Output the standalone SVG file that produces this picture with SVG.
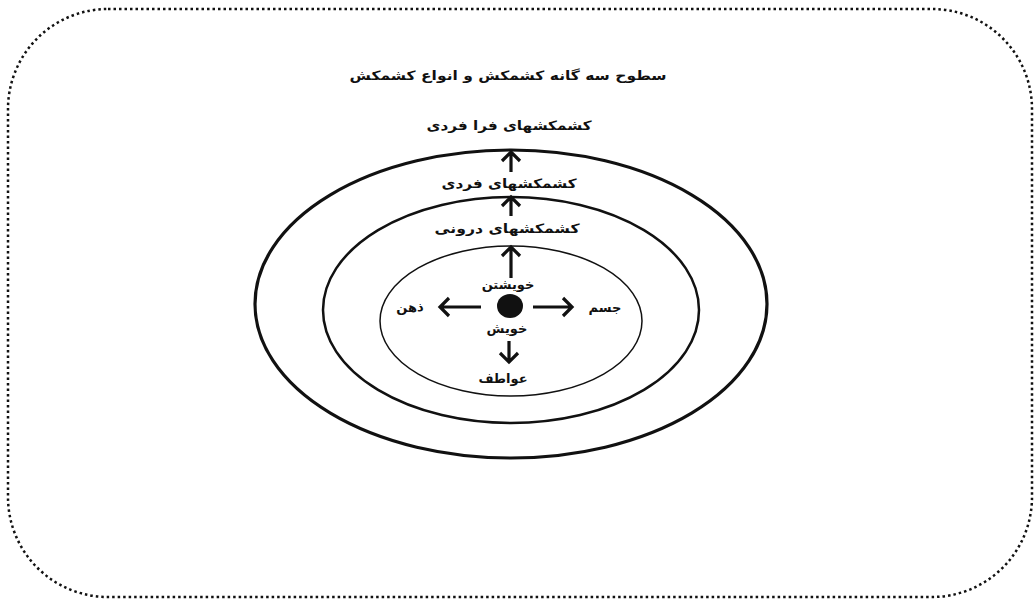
<svg xmlns="http://www.w3.org/2000/svg" width="1034" height="599" viewBox="0 0 1034 599">
<style>
.t{font-family:"DejaVu Sans","Noto Sans",sans-serif;font-weight:bold;font-size:13px;fill:#111;text-anchor:middle}
.ring{fill:none;stroke:#111}
.arr{fill:none;stroke:#111;stroke-width:3.2;stroke-linecap:butt;stroke-linejoin:miter}
</style>
<rect width="1034" height="599" fill="#fff"/>
<rect id="frame" x="8" y="9" width="1024" height="588" rx="100" ry="100" fill="none" stroke="#111" stroke-width="2.5" stroke-dasharray="2.5 3"/>
<g id="title"><text class="t" x="508" y="80" textLength="317" lengthAdjust="spacingAndGlyphs">سطوح سه گانه کشمکش و انواع کشمکش</text></g>
<g id="outer"><ellipse class="ring" cx="511" cy="304" rx="256" ry="154" stroke-width="3.2"/></g>
<g id="middle"><ellipse class="ring" cx="511" cy="310" rx="188" ry="113" stroke-width="2.5"/></g>
<g id="inner"><ellipse class="ring" cx="511" cy="321" rx="131" ry="75" stroke-width="1.5"/></g>
<g id="core"><ellipse cx="510" cy="306" rx="13" ry="12" fill="#111"/></g>
<g id="labels">
<text class="t" x="509" y="130" textLength="165" lengthAdjust="spacingAndGlyphs">کشمکشهای فرا فردی</text>
<text class="t" x="509" y="188" textLength="135" lengthAdjust="spacingAndGlyphs">کشمکشهای فردی</text>
<text class="t" x="507" y="233" textLength="145" lengthAdjust="spacingAndGlyphs">کشمکشهای درونی</text>
<text class="t" x="508" y="289">خویشتن</text>
<text class="t" x="410" y="312">ذهن</text>
<text class="t" x="605" y="312">جسم</text>
<text class="t" x="507" y="333">خویش</text>
<text class="t" x="503" y="383">عواطف</text>
</g>
<g id="connectors">
<path class="arr" d="M511 172V153M502 161l9-9 9 9"/>
<path class="arr" d="M511 216V198M502 206l9-9 9 9"/>
<path class="arr" d="M511 278V247M502 256l9-9 9 9"/>
<path class="arr" d="M481 307H440M449 298l-9 9 9 9"/>
<path class="arr" d="M533 307H572M563 298l9 9-9 9"/>
<path class="arr" d="M509 341V362M500 353l9 9 9-9"/>
</g>
</svg>
